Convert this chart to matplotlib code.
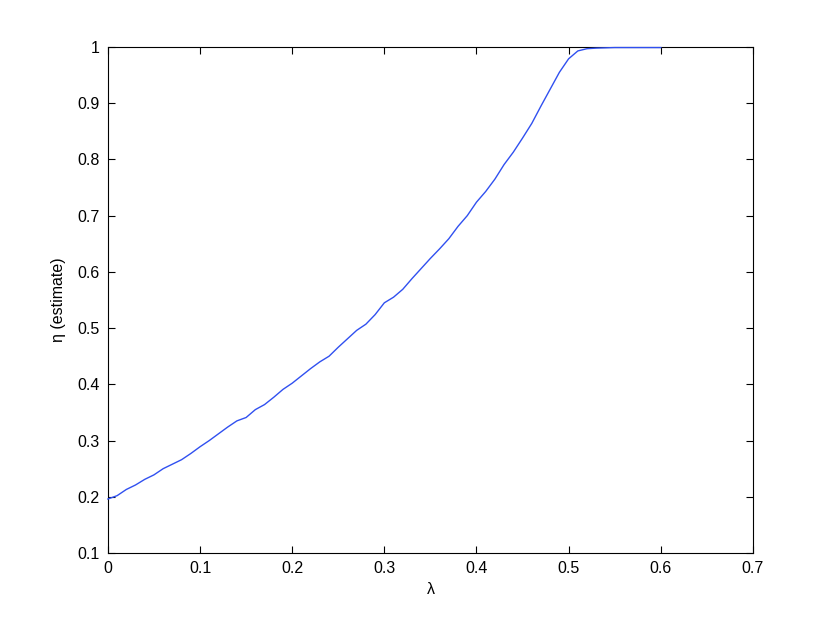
import matplotlib
matplotlib.use("Agg")
import matplotlib.pyplot as plt
import numpy as np

plt.rcParams['font.family'] = ['Liberation Sans', 'DejaVu Sans']

lam = [0.00, 0.01, 0.02, 0.03, 0.04, 0.05, 0.06, 0.07, 0.08, 0.09,
       0.10, 0.11, 0.12, 0.13, 0.14, 0.15, 0.16, 0.17, 0.18, 0.19,
       0.20, 0.21, 0.22, 0.23, 0.24, 0.25, 0.26, 0.27, 0.28, 0.29,
       0.30, 0.31, 0.32, 0.33, 0.34, 0.35, 0.36, 0.37, 0.38, 0.39,
       0.40, 0.41, 0.42, 0.43, 0.44, 0.45, 0.46, 0.47, 0.48, 0.49,
       0.50, 0.51, 0.52, 0.53, 0.54, 0.55, 0.56, 0.57, 0.58, 0.59, 0.60]
eta = [0.196, 0.202, 0.213, 0.221, 0.231, 0.239, 0.250, 0.258, 0.266, 0.277,
       0.289, 0.300, 0.312, 0.324, 0.335, 0.341, 0.355, 0.364, 0.377, 0.391,
       0.402, 0.415, 0.428, 0.440, 0.450, 0.466, 0.481, 0.496, 0.507, 0.524,
       0.545, 0.555, 0.569, 0.588, 0.606, 0.624, 0.641, 0.659, 0.681, 0.700,
       0.724, 0.743, 0.765, 0.791, 0.813, 0.838, 0.864, 0.895, 0.925, 0.955,
       0.979, 0.993, 0.997, 0.998, 0.9985, 0.999, 0.999, 0.999, 0.999, 0.999, 0.999]

xticks = [0, 0.1, 0.2, 0.3, 0.4, 0.5, 0.6, 0.7]
xticklabels = ['0', '0.1', '0.2', '0.3', '0.4', '0.5', '0.6', '0.7']
yticks = [0.1, 0.2, 0.3, 0.4, 0.5, 0.6, 0.7, 0.8, 0.9, 1.0]
yticklabels = ['0.1', '0.2', '0.3', '0.4', '0.5', '0.6', '0.7', '0.8', '0.9', '1']

fig = plt.figure(figsize=(8.3, 6.25), dpi=100)
ax = fig.add_axes([0.130, 0.1152, 0.7771, 0.8096])
ax.plot(lam, eta, color='#3050f0', linewidth=1.0, zorder=3, clip_on=False)
ax.set_xlim(0, 0.7)
ax.set_ylim(0.1, 1.0)
ax.set_xticks(xticks)
ax.set_xticklabels(xticklabels)
ax.set_yticks(yticks)
ax.set_yticklabels(yticklabels)
ax.tick_params(direction='in', length=5, width=0.8, labelsize=11.5,
               top=True, right=True, pad=6)
for s in ax.spines.values():
    s.set_linewidth(0.8)
    s.set_zorder(2)
ax.set_xlabel('λ', fontsize=11.5, labelpad=4)
ax.set_ylabel('η (estimate)', fontsize=11.5, labelpad=8)
fig.savefig('out.png', dpi=100, facecolor='white')
